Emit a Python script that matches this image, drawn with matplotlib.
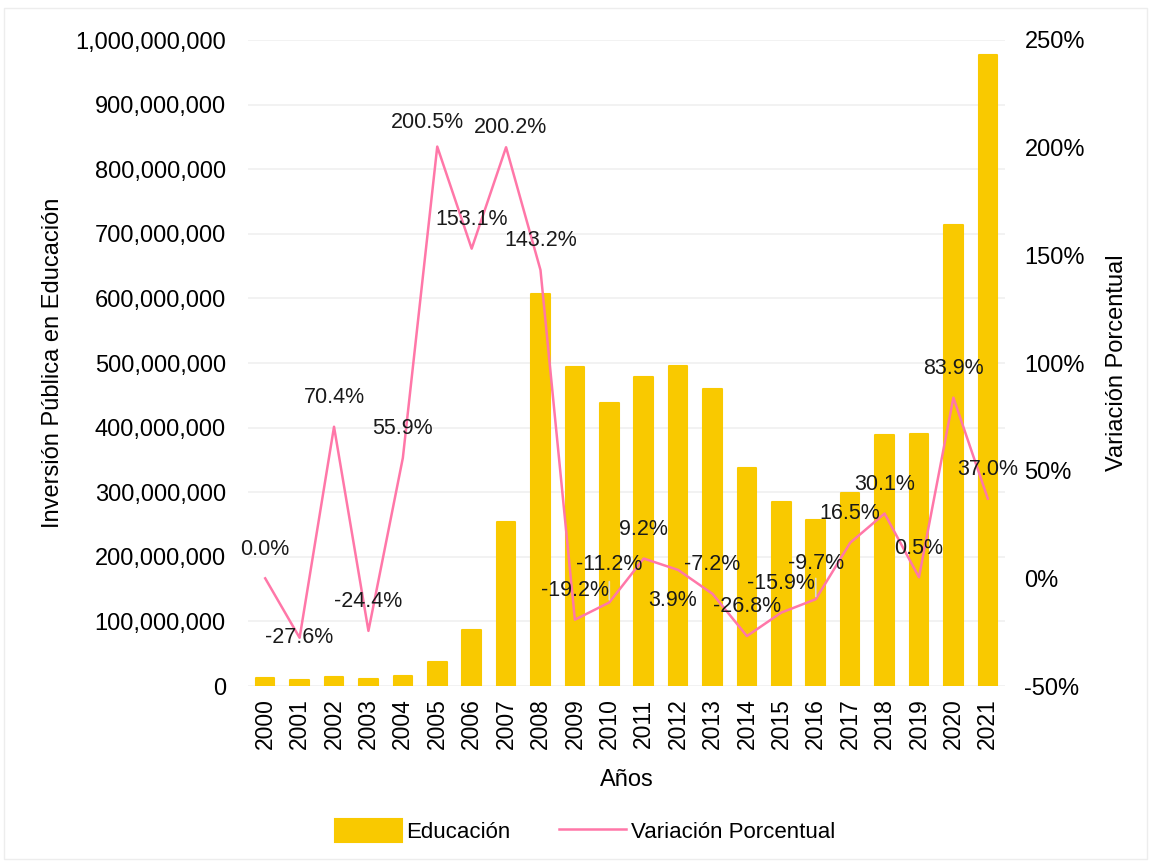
import numpy as np
import matplotlib.pyplot as plt
from matplotlib.ticker import FuncFormatter, MultipleLocator
from matplotlib.patches import Rectangle

plt.rcParams['font.family'] = ['Liberation Sans', 'DejaVu Sans']

years = [str(y) for y in range(2000, 2022)]
inversion = [12e6, 9e6, 14e6, 11e6, 16e6, 37e6, 87e6, 254e6, 607e6, 494e6, 438e6,
             478e6, 496e6, 460e6, 338e6, 285e6, 257e6, 299e6, 389e6, 390e6, 713e6, 977e6]
variacion = [0.0, -27.6, 70.4, -24.4, 55.9, 200.5, 153.1, 200.2, 143.2, -19.2, -11.2,
             9.2, 3.9, -7.2, -26.8, -15.9, -9.7, 16.5, 30.1, 0.5, 83.9, 37.0]

bar_color = '#F9C900'
line_color = '#FF77A8'

# label offsets in points (dx, dy); most sit ~21pt above the point
offsets = {1: (0, 0), 5: (-7, 17), 7: (3, 14), 10: (0, 27), 12: (-4, -22), 16: (0, 26)}

fig = plt.figure(figsize=(11.51, 8.63), dpi=100)
ax = fig.add_axes([248/1151, 1-686/863, (1005-248)/1151, (686-40)/863])
ax2 = ax.twinx()

x = np.arange(len(years))
ax.bar(x, inversion, width=0.54, color=bar_color, edgecolor=bar_color,
       linewidth=1.5, joinstyle='round', zorder=2, label='Educación')
ax.set_ylim(0, 1e9)
ax.set_xlim(-0.5, len(years) - 0.5)
ax.yaxis.set_major_locator(MultipleLocator(1e8))
ax.yaxis.set_major_formatter(FuncFormatter(lambda v, p: f'{v:,.0f}'))
ax.grid(axis='y', color='#F0F0F0', linewidth=1.2, zorder=0)
ax.set_axisbelow(True)
ax.set_xticks(x)
ax.set_xticklabels(years, rotation=90, fontsize=16.5)
ax.tick_params(axis='y', labelsize=17, length=0, pad=16)
ax.tick_params(axis='x', length=0, pad=9)
ax.set_ylabel('Inversión Pública en Educación', fontsize=17, labelpad=8)
ax.set_xlabel('Años', fontsize=17, labelpad=14)

ax2.plot(x, np.array(variacion) / 100, color=line_color, linewidth=1.8, zorder=3,
         label='Variación Porcentual')
ax2.set_ylim(-0.5, 2.5)
ax2.yaxis.set_major_locator(MultipleLocator(0.5))
ax2.yaxis.set_major_formatter(FuncFormatter(lambda v, p: f'{v*100:.0f}%'))
ax2.tick_params(axis='y', labelsize=17, length=0, pad=14)
ax2.set_ylabel('Variación Porcentual', fontsize=17, labelpad=15)

for i, v in enumerate(variacion):
    dx, dy = offsets.get(i, (0, 21))
    ax2.annotate(f'{v:.1f}%', (x[i], v / 100), xytext=(dx, dy), textcoords='offset points',
                 ha='center', va='center', fontsize=15.5, color='#1a1a1a', zorder=4)

# short leader lines for the shifted labels
for i in (10, 16):
    ax2.annotate('', (x[i], variacion[i] / 100), xytext=(0, 17), textcoords='offset points',
                 arrowprops=dict(arrowstyle='-', color='#D9D9D9', lw=1.2))

for a in (ax, ax2):
    for s in a.spines.values():
        s.set_visible(False)

h1, l1 = ax.get_legend_handles_labels()
h2, l2 = ax2.get_legend_handles_labels()
fig.legend(h1 + h2, l1 + l2, loc='center', bbox_to_anchor=(585/1151, 1-831/863),
           ncol=2, frameon=False, fontsize=16, handlelength=3.0, handleheight=1.2,
           handletextpad=0.2, columnspacing=2.2)

fig.patches.append(Rectangle((4/1151, 4/863), 1-8/1151, 1-12/863, transform=fig.transFigure,
                             fill=False, edgecolor='#EDEDED', linewidth=1))

fig.savefig('out.png', dpi=100)
